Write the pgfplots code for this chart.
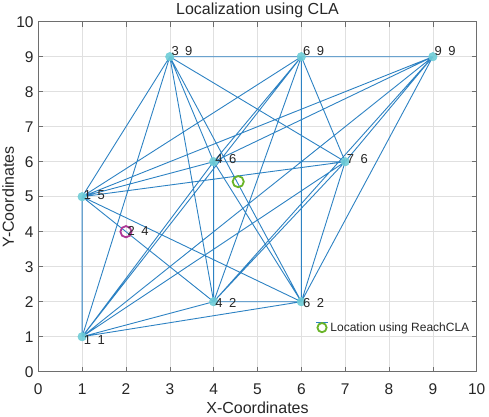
\documentclass[border=0pt]{standalone}
\usepackage{fontspec}
\setmainfont{Liberation Sans}
\usepackage{pgfplots}
\pgfplotsset{compat=1.18}
\definecolor{edge}{RGB}{45,130,195}
\definecolor{nodec}{RGB}{110,205,215}
\definecolor{purp}{RGB}{175,55,150}
\definecolor{grn}{RGB}{105,180,40}
\definecolor{axgray}{RGB}{110,110,110}
\definecolor{txt}{RGB}{38,38,38}
\begin{document}
\begin{tikzpicture}
\begin{axis}[
  scale only axis, width=438.4pt, height=350pt,
  xmin=0, xmax=10, ymin=0, ymax=10,
  xtick={0,...,10}, ytick={0,...,10},
  grid=major, grid style={color=black!12, line width=0.5pt},
  axis line style={axgray, line width=0.6pt},
  tick style={axgray, line width=0.6pt},
  tick align=inside, major tick length=5pt,
  /pgf/number format/assume math mode=true,
  ticklabel style={font=\fontsize{15.5}{18}\selectfont, text=txt},
  xticklabel style={anchor=base, yshift=-22.3pt},
  yticklabel style={anchor=east, inner xsep=0pt, xshift=-4.5pt},
  title={Localization using CLA},
  title style={font=\fontsize{16}{19}\selectfont, text=txt, at={(axis description cs:0.5,1)}, anchor=base, yshift=1.7pt},
  xlabel={X-Coordinates}, ylabel={Y-Coordinates},
  xlabel style={font=\fontsize{16}{19}\selectfont, text=txt, at={(axis description cs:0.5,0)}, anchor=base, yshift=-42pt},
  ylabel style={font=\fontsize{16}{19}\selectfont, text=txt, at={(axis description cs:-0.0555,0.5)}, anchor=base},
  unbounded coords=jump,
  legend style={at={(axis description cs:0.632,0.126)}, anchor=west, draw=none, fill=none,
    font=\fontsize{12}{14}\selectfont, text=txt, inner sep=0pt},
]
\coordinate (bl) at (rel axis cs:0,0);
\coordinate (tr) at (rel axis cs:1,1);
% sensor nodes
\addplot[forget plot, only marks, mark=*, mark size=4.3pt, color=nodec, fill opacity=0.9] table {
x y
1 1
1 5
3 9
4 6
4 2
6 2
6 9
7 6
9 9
};
% edges (complete graph)
\addplot[forget plot, edge, line width=0.9pt] table {
x y
1 1
1 5
nan nan
1 1
3 9
nan nan
1 1
4 6
nan nan
1 1
4 2
nan nan
1 1
6 2
nan nan
1 1
6 9
nan nan
1 1
7 6
nan nan
1 1
9 9
nan nan
1 5
3 9
nan nan
1 5
4 6
nan nan
1 5
4 2
nan nan
1 5
6 2
nan nan
1 5
6 9
nan nan
1 5
7 6
nan nan
1 5
9 9
nan nan
3 9
4 6
nan nan
3 9
4 2
nan nan
3 9
6 2
nan nan
3 9
6 9
nan nan
3 9
7 6
nan nan
3 9
9 9
nan nan
4 6
4 2
nan nan
4 6
6 2
nan nan
4 6
6 9
nan nan
4 6
7 6
nan nan
4 6
9 9
nan nan
4 2
6 2
nan nan
4 2
6 9
nan nan
4 2
7 6
nan nan
4 2
9 9
nan nan
6 2
6 9
nan nan
6 2
7 6
nan nan
6 2
9 9
nan nan
6 9
7 6
nan nan
6 9
9 9
nan nan
7 6
9 9
};
% unknown node and estimated location
\addplot[forget plot, only marks, mark=o, mark size=5.6pt, purp, line width=1.8pt] coordinates {(2,4)};
\addplot[forget plot, only marks, mark=o, mark size=5.6pt, grn, line width=1.8pt] coordinates {(4.56,5.43)};
% node labels
\addplot[forget plot, draw=none, mark=none,
  visualization depends on={value \thisrow{a} \as \la},
  visualization depends on={value \thisrow{b} \as \lb},
  nodes near coords={\la\hspace{0.5em}\lb},
  nodes near coords style={anchor=west, inner xsep=1.5pt, text=txt, font=\fontsize{13}{15}\selectfont}]
  table {
x y a b
1 0.9 1 1
1 5.04 1 5
3 9.15 3 9
4 6.09 4 6
4 1.97 4 2
6 1.97 6 2
6 9.15 6 9
7 6.09 7 6
9 9.15 9 9
2 4.02 2 4
};
\addlegendimage{legend image code/.code={
  \draw[edge, line width=0.9pt] (-3pt,5pt)--(9pt,5pt);
  \draw[grn, line width=1.8pt] (3pt,0pt) circle (4.6pt);}}
\addlegendentry{Location using ReachCLA}
\end{axis}
\pgfresetboundingbox
\path[use as bounding box] ([xshift=-38.3pt,yshift=-44.3pt]bl) rectangle ([xshift=12.3pt,yshift=21.7pt]tr);
\end{tikzpicture}
\end{document}
